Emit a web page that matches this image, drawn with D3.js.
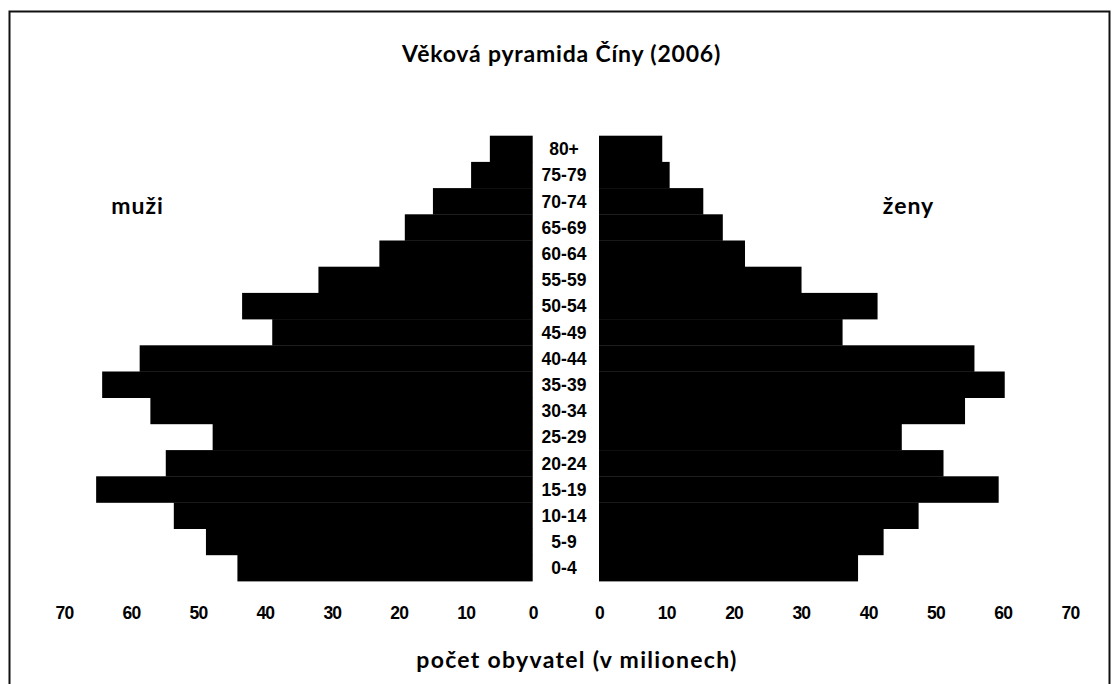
<!DOCTYPE html>
<html>
<head>
<meta charset="utf-8">
<script src="https://cdn.jsdelivr.net/npm/d3@7"></script>
<style>
  html, body { margin: 0; padding: 0; background: #fff; }
  svg { display: block; }
</style>
</head>
<body>
<svg id="chart" width="1119" height="684"></svg>
<script>
// ---- data (millions) ----
const ageGroups = ["80+", "75-79", "70-74", "65-69", "60-64", "55-59", "50-54", "45-49",
                   "40-44", "35-39", "30-34", "25-29", "20-24", "15-19", "10-14", "5-9", "0-4"];
const men   = [6.4, 9.2, 14.9, 19.1, 22.9, 32.0, 43.4, 38.9, 58.7, 64.3, 57.1, 47.8, 54.8, 65.2, 53.6, 48.8, 44.1];
const women = [9.4, 10.5, 15.5, 18.4, 21.7, 30.1, 41.4, 36.2, 55.8, 60.3, 54.4, 45.0, 51.2, 59.4, 47.5, 42.3, 38.5];
const tickValues = [0, 10, 20, 30, 40, 50, 60, 70];
const titleText = "Věková pyramida Číny (2006)";
const menLabel = "muži";
const womenLabel = "ženy";
const axisTitle = "počet obyvatel (v milionech)";

const svg = d3.select("#chart");

// frame
svg.append("rect")
  .attr("x", 9.5).attr("y", 11.5)
  .attr("width", 1100).attr("height", 700)
  .attr("fill", "none").attr("stroke", "#111").attr("stroke-width", 2);

// scales
const y = d3.scaleBand().domain(ageGroups).range([135.7, 581.1]).padding(0);
const xL = d3.scaleLinear().domain([0, 70]).range([532.7, 64]);
const xR = d3.scaleLinear().domain([0, 70]).range([599, 1070]);

// bars
svg.append("g").selectAll("rect")
  .data(ageGroups.map((a, i) => ({ a, v: men[i] })))
  .join("rect")
  .attr("x", d => xL(d.v))
  .attr("y", d => y(d.a))
  .attr("width", d => xL(0) - xL(d.v))
  .attr("height", y.bandwidth() + 0.3)
  .attr("fill", "#000");

svg.append("g").selectAll("rect")
  .data(ageGroups.map((a, i) => ({ a, v: women[i] })))
  .join("rect")
  .attr("x", xR(0))
  .attr("y", d => y(d.a))
  .attr("width", d => xR(d.v) - xR(0))
  .attr("height", y.bandwidth() + 0.3)
  .attr("fill", "#000");

// age labels
svg.append("g").selectAll("text")
  .data(ageGroups)
  .join("text")
  .attr("x", 564)
  .attr("y", d => y(d) + y.bandwidth() / 2)
  .attr("dy", "0.36em")
  .attr("text-anchor", "middle")
  .style("font-family", "'Liberation Sans', Arial, sans-serif")
  .style("font-weight", "bold")
  .style("font-size", "17.5px")
  .attr("fill", "#000")
  .text(d => d);

// x axes (labels only)
const axisL = d3.axisBottom(xL).tickValues(tickValues).tickSize(0).tickPadding(0).tickFormat(d3.format("d"));
const axisR = d3.axisBottom(xR).tickValues(tickValues).tickSize(0).tickPadding(0).tickFormat(d3.format("d"));
[axisL, axisR].forEach(ax => {
  const g = svg.append("g").attr("transform", "translate(0,607)").call(ax);
  g.select(".domain").remove();
  g.selectAll("text")
    .style("font-family", "'Liberation Sans', Arial, sans-serif")
    .style("font-weight", "bold")
    .style("font-size", "17.5px")
    .style("letter-spacing", "-0.8px")
    .attr("fill", "#000");
});

// titles
function label(txt, x, yy, size, ls) {
  svg.append("text")
    .attr("x", x).attr("y", yy)
    .attr("text-anchor", "middle")
    .style("font-family", "Lato, 'Open Sans', sans-serif")
    .style("font-weight", "bold")
    .style("font-size", size + "px")
    .style("letter-spacing", ls + "px")
    .attr("fill", "#000")
    .text(txt);
}
label(titleText, 561.5, 62, 23, 0.8);
label(menLabel, 137.5, 214, 23, 1);
label(womenLabel, 908.5, 214, 23, 1);
label(axisTitle, 577, 668, 23, 1.3);
</script>
</body>
</html>
